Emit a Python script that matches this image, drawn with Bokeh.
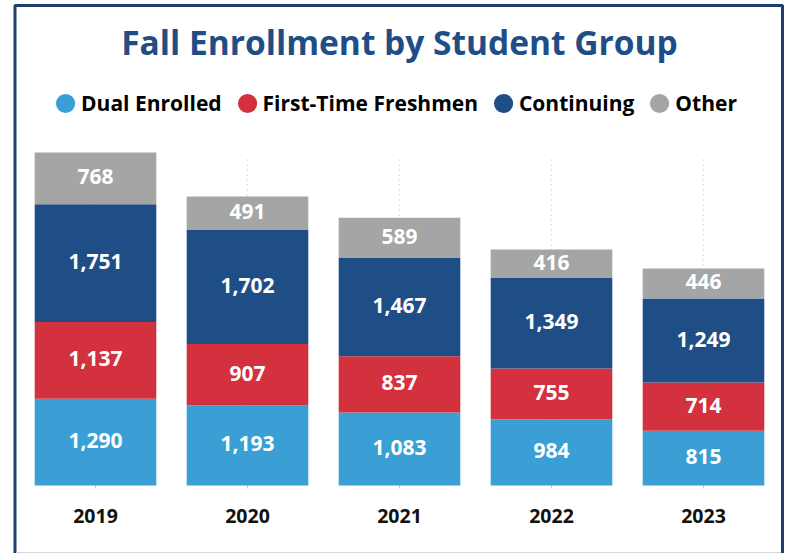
from bokeh.plotting import figure
from bokeh.models import (ColumnDataSource, Range1d, Legend, LegendItem,
                          LabelSet, Label, BoxAnnotation)
from bokeh.core.properties import value
from bokeh.embed import file_html
from bokeh.resources import INLINE

years = ["2019", "2020", "2021", "2022", "2023"]
dual_enrolled = [1290, 1193, 1083, 984, 815]
first_time = [1137, 907, 837, 755, 714]
continuing = [1751, 1702, 1467, 1349, 1249]
other = [768, 491, 589, 416, 446]

groups = ["Dual Enrolled", "First-Time Freshmen", "Continuing", "Other"]
keys = ["dual", "ftf", "cont", "other"]
colors = ["#3A9FD4", "#D2313D", "#1F4E87", "#A5A5A5"]
series = [dual_enrolled, first_time, continuing, other]
title_text = "Fall Enrollment by Student Group"

FONT = "Open Sans"
W, H = 790, 553
# layout (canvas pixels)
PLOT_BOTTOM, PLOT_TOP = 485, 152
CENTER0, STEP = 95, 152

idx = list(range(len(years)))
totals = [sum(v) for v in zip(*series)]
k = (PLOT_BOTTOM - PLOT_TOP) / max(totals)


def xd(cx):
    return (cx - CENTER0) / STEP


def yd(cy):
    return (PLOT_BOTTOM - cy) / k


data = {"idx": idx, "year": years}
for kk, s in zip(keys, series):
    data[kk] = s
src = ColumnDataSource(data)

p = figure(x_range=Range1d(xd(0), xd(W)), y_range=Range1d(yd(H), yd(0)),
           width=W, height=H, output_backend="svg", toolbar_location=None,
           x_axis_type=None, y_axis_type=None, min_border=0, title=None)
p.outline_line_color = None
p.xgrid.visible = False
p.ygrid.visible = False

# dotted vertical grid lines at the categories
p.segment(x0="idx", y0=0, x1="idx", y1=yd(155), source=src,
          line_color="#C8C8C8", line_width=1.5, line_dash="1 4")
# small tick marks
p.segment(x0="idx", y0=0, x1="idx", y1=yd(488), source=src,
          line_color="#C8C8C8", line_width=1)

p.vbar_stack(keys, x="idx", width=0.8, color=colors, source=src, line_color=None)

# value labels in the middle of each segment
lab_x, lab_y, lab_t = [], [], []
for i in idx:
    base = 0
    for s in series:
        lab_x.append(i)
        lab_y.append(base + s[i] / 2)
        lab_t.append(f"{s[i]:,}")
        base += s[i]
lsrc = ColumnDataSource(dict(x=lab_x, y=lab_y, t=lab_t))
p.add_layout(LabelSet(x="x", y="y", text="t", source=lsrc, text_color="white",
                      text_font=value(FONT), text_font_style="bold",
                      text_font_size="21px", text_align="center",
                      text_baseline="middle", y_offset=1.5))

# category labels
p.text(x="idx", y=yd(515), text="year", source=src, text_align="center",
       text_baseline="alphabetic", text_font=value(FONT),
       text_font_style="bold", text_font_size="19.5px", text_color="#111111")

# title
p.add_layout(Label(x=xd(399), y=yd(41), text=title_text, text_align="center",
                   text_baseline="alphabetic", text_font=FONT,
                   text_font_style="bold", text_font_size="33.5px",
                   text_color="#1F4E87"))

# legend with circle markers
items = []
for g, c in zip(groups, colors):
    r = p.ellipse(x=[0.0], y=[float("nan")], width=20, height=20,
                  width_units="screen", height_units="screen",
                  fill_color=c, line_color=None)
    items.append(LegendItem(label=g, renderers=[r]))
legend = Legend(items=items, orientation="horizontal", location="top_center",
                glyph_width=24, glyph_height=24, label_standoff=4, spacing=13,
                padding=0, margin=89, border_line_color=None,
                background_fill_alpha=0, label_text_font=FONT,
                label_text_font_style="bold", label_text_font_size="21px",
                label_text_color="black")
p.add_layout(legend)

# card border
p.add_layout(BoxAnnotation(left=xd(14.5), right=xd(782), top=yd(5),
                           bottom=yd(H + 20), fill_alpha=0,
                           line_color="#1F3F6B", line_alpha=1, line_width=3,
                           level="overlay"))
p.add_layout(BoxAnnotation(left=xd(16), right=xd(780.5), top=yd(551.5),
                           bottom=yd(H + 5), fill_color="#D3D8E0",
                           fill_alpha=1, line_color=None, level="overlay"))

open("out.html", "w").write(file_html(p, INLINE))
